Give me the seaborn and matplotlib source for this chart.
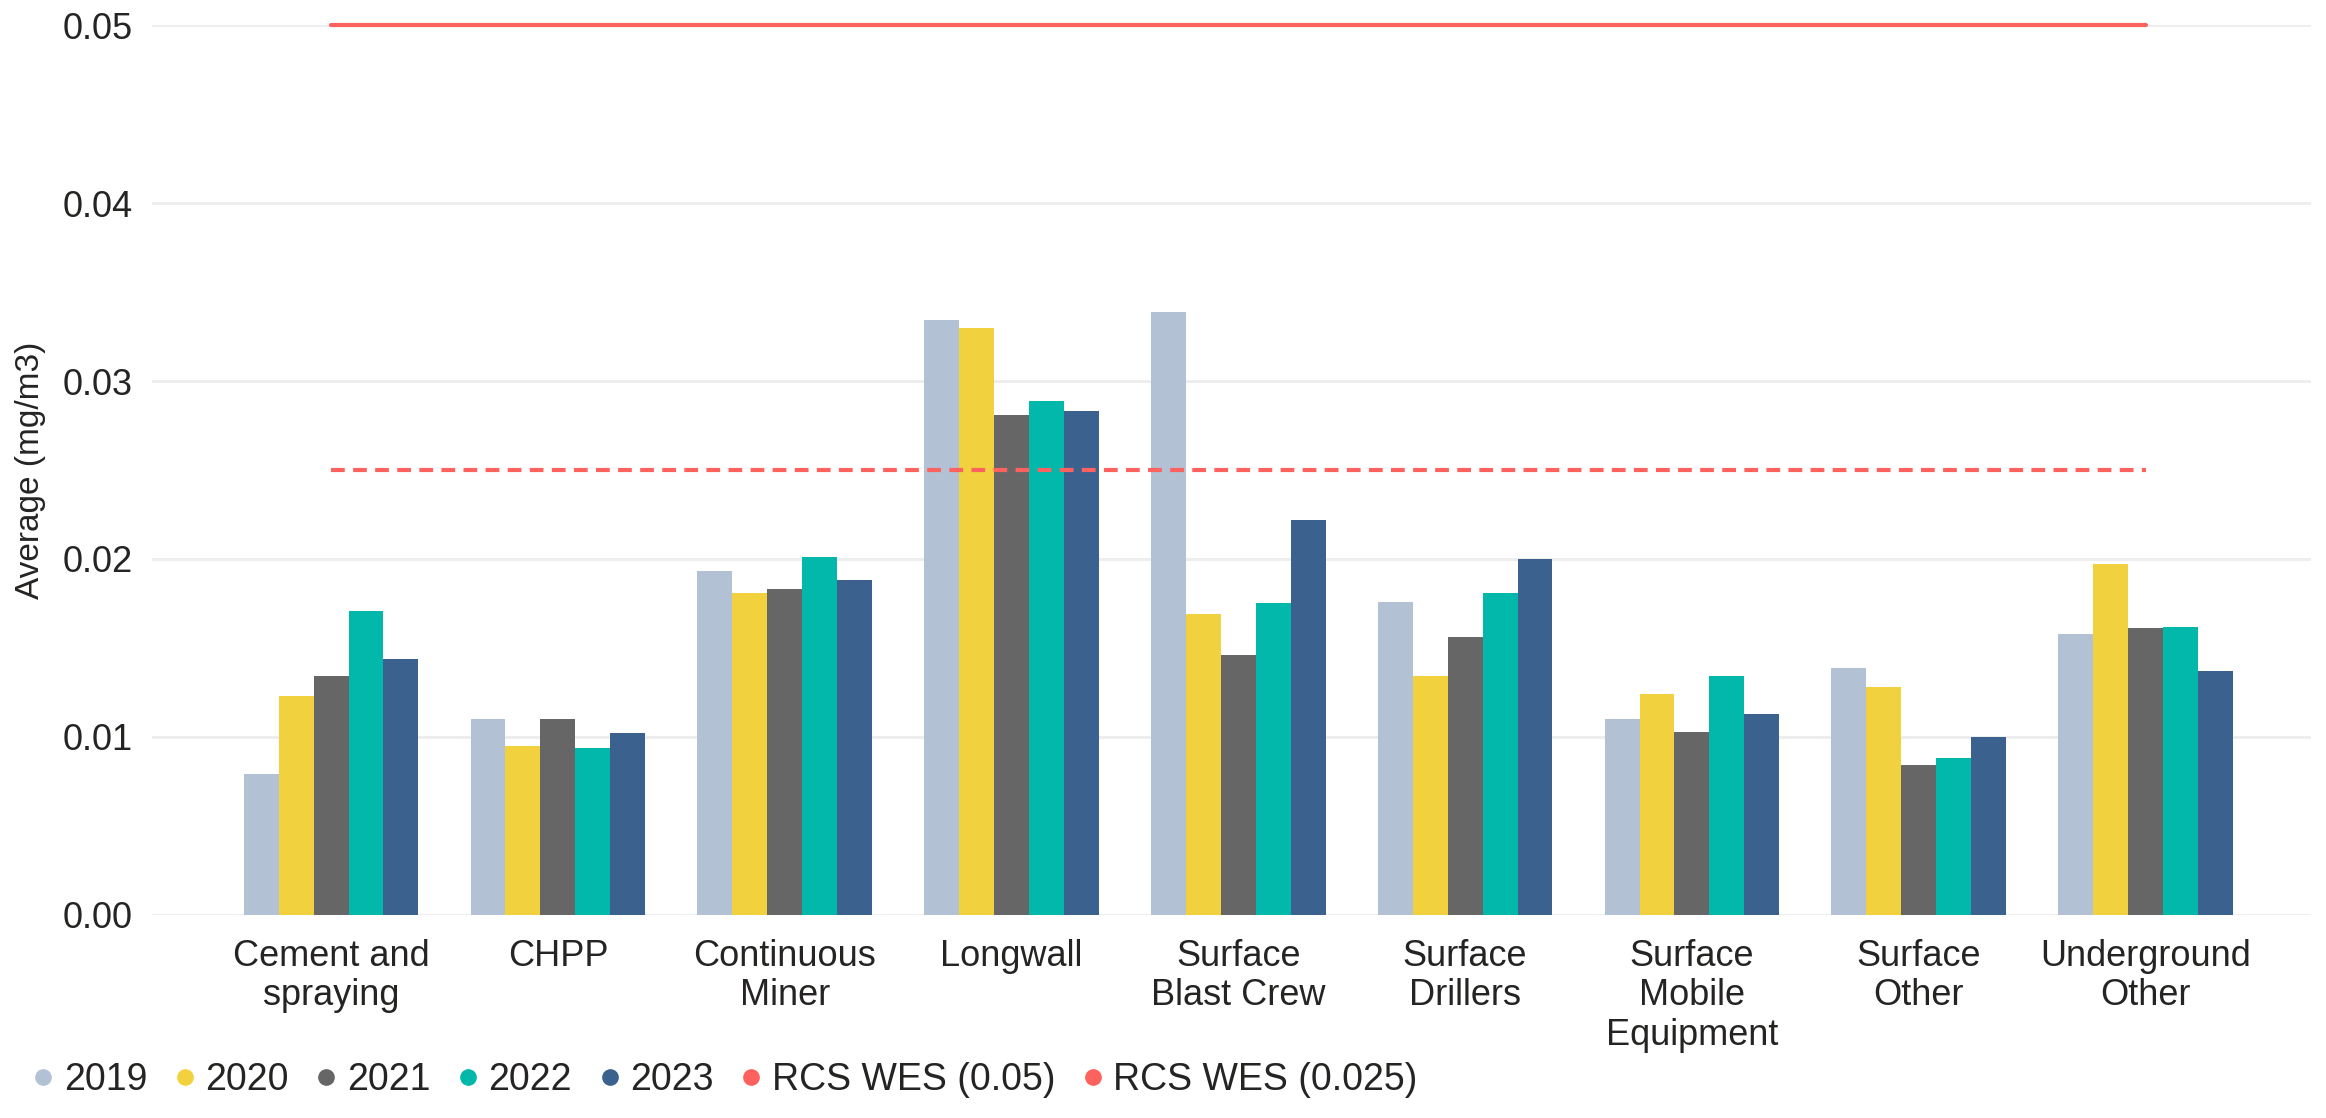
import numpy as np
import pandas as pd
import matplotlib.pyplot as plt
import seaborn as sns
from matplotlib.lines import Line2D

# categories and tick labels
categories = ['Cement and spraying', 'CHPP', 'Continuous Miner', 'Longwall',
              'Surface Blast Crew', 'Surface Drillers', 'Surface Mobile Equipment',
              'Surface Other', 'Underground Other']
tick_labels = ['Cement and\nspraying', 'CHPP', 'Continuous\nMiner', 'Longwall',
               'Surface\nBlast Crew', 'Surface\nDrillers', 'Surface\nMobile\nEquipment',
               'Surface\nOther', 'Underground\nOther']
years = ['2019', '2020', '2021', '2022', '2023']

# average RCS (mg/m3) per year
v2019 = [0.0079, 0.0110, 0.0193, 0.0334, 0.0339, 0.0176, 0.0110, 0.0139, 0.0158]
v2020 = [0.0123, 0.0095, 0.0181, 0.0330, 0.0169, 0.0134, 0.0124, 0.0128, 0.0197]
v2021 = [0.0134, 0.0110, 0.0183, 0.0281, 0.0146, 0.0156, 0.0103, 0.0084, 0.0161]
v2022 = [0.0171, 0.0094, 0.0201, 0.0289, 0.0175, 0.0181, 0.0134, 0.0088, 0.0162]
v2023 = [0.0144, 0.0102, 0.0188, 0.0283, 0.0222, 0.0200, 0.0113, 0.0100, 0.0137]

# workplace exposure standards
wes_labels = ['RCS WES (0.05)', 'RCS WES (0.025)']
wes_values = [0.05, 0.025]

colors = ['#B3C1D4', '#F2D13E', '#666666', '#01B8AA', '#3B628E']
red = '#FD625E'

df = pd.DataFrame({
    'Category': categories * 5,
    'Year': np.repeat(years, len(categories)),
    'Value': v2019 + v2020 + v2021 + v2022 + v2023,
})

sns.set_theme(style='white')
plt.rcParams['font.family'] = ['Liberation Sans', 'DejaVu Sans']

fig = plt.figure(figsize=(23.26, 11.18), dpi=100)
ax = fig.add_axes([0.0653, 0.1816, 0.9283, 0.796])

sns.barplot(data=df, x='Category', y='Value', hue='Year', order=categories,
            hue_order=years, palette=colors, saturation=1, width=0.77,
            linewidth=0, ax=ax)
ax.get_legend().remove()

xs = np.arange(len(categories))
ax.plot(xs, [wes_values[0]] * len(xs), color=red, lw=3, clip_on=False, zorder=5)
ax.plot(xs, [wes_values[1]] * len(xs), color=red, lw=3, ls=(0, (3.3, 2)), zorder=5)

ax.set_ylim(0, 0.05)
ax.set_xlim(-0.79, 8.73)
ax.set_yticks([0, 0.01, 0.02, 0.03, 0.04, 0.05])
ax.set_yticklabels(['0.00', '0.01', '0.02', '0.03', '0.04', '0.05'])
ax.set_xticks(xs)
ax.set_xticklabels(tick_labels, linespacing=1.18)
ax.yaxis.grid(True, color='#EDEDED', lw=2)
ax.set_axisbelow(True)
for s in ax.spines.values():
    s.set_visible(False)
ax.tick_params(axis='y', length=0, pad=14, labelsize=26, labelcolor='#252423')
ax.tick_params(axis='x', length=0, pad=17, labelsize=26, labelcolor='#252423')
ax.set_xlabel('')
ax.set_ylabel('Average (mg/m3)', fontsize=24, color='#252423', labelpad=12)

handles = [Line2D([], [], marker='o', ls='', color=c, markersize=11) for c in colors]
handles += [Line2D([], [], marker='o', ls='', color=red, markersize=11) for _ in wes_labels]
fig.legend(handles, years + wes_labels, loc='lower left', bbox_to_anchor=(-0.004, -0.012),
           ncol=7, frameon=False, fontsize=27, handletextpad=0.05,
           columnspacing=0.5, handlelength=1.0, labelcolor='#252423')

fig.savefig('out.png', dpi=100)
